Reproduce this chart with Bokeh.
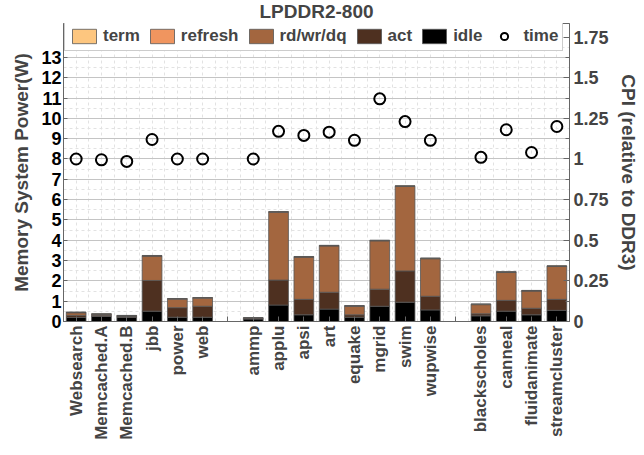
from bokeh.plotting import figure
from bokeh.models import (Range1d, LinearAxis, FixedTicker, Legend, LegendItem,
                          ColumnDataSource)
from bokeh.embed import file_html
from bokeh.resources import INLINE

# ---------------- data ----------------
categories = ["Websearch", "Memcached.A", "Memcached.B", "jbb", "power", "web",
              "ammp", "applu", "apsi", "art", "equake", "mgrid", "swim", "wupwise",
              "blackscholes", "canneal", "fluidanimate", "streamcluster"]
group_sizes = [6, 8, 4]

idle    = [0.20, 0.25, 0.20, 0.51, 0.21, 0.21, 0.12, 0.81, 0.33, 0.61, 0.21, 0.75, 0.95, 0.57, 0.28, 0.51, 0.33, 0.55]
act     = [0.10, 0.05, 0.05, 1.51, 0.47, 0.54, 0.03, 1.23, 0.76, 0.83, 0.12, 0.84, 1.54, 0.67, 0.10, 0.53, 0.32, 0.54]
rdwr    = [0.13, 0.05, 0.02, 1.20, 0.42, 0.40, 0.01, 3.34, 2.08, 2.28, 0.42, 2.38, 4.16, 1.85, 0.45, 1.38, 0.85, 1.62]
refresh = [0.02] * 18
term    = [0.01] * 18
cpi     = [1.00, 0.995, 0.985, 1.12, 1.00, 1.00, 1.00, 1.17, 1.145, 1.165, 1.115, 1.37, 1.23, 1.115,
           1.01, 1.18, 1.04, 1.20]

left_ticks = [0, 1, 2, 3, 4, 5, 6, 7, 8, 9, 10, 11, 12, 13]
right_ticks = [0, 0.25, 0.5, 0.75, 1, 1.25, 1.5, 1.75]
right_tick_labels = ["0", "0.25", "0.5", "0.75", "1", "1.25", "1.5", "1.75"]

# ---------------- positions from groups (gap slot between groups) ----------------
xs = []
slot_labels = {}
pos = 1
ci = 0
for gi, n in enumerate(group_sizes):
    for _ in range(n):
        xs.append(pos)
        slot_labels[pos] = categories[ci]
        ci += 1
        pos += 1
    if gi < len(group_sizes) - 1:
        slot_labels[pos] = ""
        pos += 1
n_slots = pos - 1

src = ColumnDataSource(dict(x=xs, idle=idle, act=act, rdwr=rdwr, refresh=refresh,
                            term=term, cpi=cpi))

FONT = "Liberation Sans"
colors = {"idle": "#000000", "act": "#4E3020", "rdwr": "#A3663F",
          "refresh": "#F0955F", "term": "#FDC67F"}

# frame 23..321 px; the top band (above 14 W / 1.75) sits under the legend
Y_TOP = 14.67
p = figure(width=644, height=455, output_backend="svg", toolbar_location=None,
           x_range=Range1d(0.5, n_slots + 0.5), y_range=Range1d(0, Y_TOP),
           min_border_left=63, min_border_right=75, min_border_top=23,
           min_border_bottom=134)
p.extra_y_ranges = {"cpi": Range1d(0, Y_TOP / 8)}

p.title.text = "LPDDR2-800"
p.title.align = "center"
p.title.text_font = FONT
p.title.text_font_size = "19px"
p.title.text_font_style = "bold"
p.title.standoff = 0
p.title.vertical_align = "top"

p.outline_line_color = "#666666"
p.background_fill_color = "white"

# grids
minor_y = [v + 0.5 for v in left_ticks]
p.yaxis.ticker = FixedTicker(ticks=left_ticks, minor_ticks=minor_y)
p.ygrid.grid_line_color = "#c4c4c4"
p.ygrid.grid_line_width = 1
p.ygrid.minor_grid_line_color = "#e2e2e2"
p.ygrid.minor_grid_line_dash = "3 3"
p.xgrid.ticker = FixedTicker(ticks=[i * 0.5 + 0.5 for i in range(2 * n_slots + 1)])
p.xgrid.grid_line_color = "#e2e2e2"
p.xgrid.grid_line_dash = "3 3"

# bars
stack_keys = ["idle", "act", "rdwr", "refresh", "term"]
renderers = p.vbar_stack(stack_keys, x="x", width=0.78, source=src,
                         color=[colors[k] for k in stack_keys],
                         line_color="#555555", line_width=0.8)
r_idle, r_act, r_rdwr, r_ref, r_term = renderers
for r in renderers:
    r.glyph.line_color = "#555555"

# CPI circles
r_time = p.scatter("x", "cpi", source=src, y_range_name="cpi", marker="circle", size=11,
                   fill_color=None, line_color="black", line_width=2)

# left axis
ya = p.yaxis[0]
ya.axis_label = "Memory System Power(W)"
ya.axis_label_text_font = FONT
ya.axis_label_text_font_style = "bold"
ya.axis_label_text_font_size = "19px"
ya.axis_label_standoff = 6
ya.major_label_text_font = FONT
ya.major_label_text_font_style = "bold"
ya.major_label_text_font_size = "18px"
ya.major_label_text_color = "black"
ya.major_label_standoff = 2
ya.major_tick_in = 4
ya.major_tick_out = 0
ya.minor_tick_in = 0
ya.minor_tick_out = 0
ya.axis_line_color = "#666666"
ya.major_tick_line_color = "#666666"

# right axis
ra = LinearAxis(y_range_name="cpi",
                ticker=FixedTicker(ticks=right_ticks,
                                   minor_ticks=[v + 0.125 for v in right_ticks[:-1]]))
ra.major_label_overrides = {float(v): s for v, s in zip(right_ticks, right_tick_labels)}
ra.axis_label = "CPI (relative to DDR3)"
ra.axis_label_text_font = FONT
ra.axis_label_text_font_style = "bold"
ra.axis_label_text_font_size = "19px"
ra.axis_label_standoff = 6
ra.major_label_text_font = FONT
ra.major_label_text_font_style = "bold"
ra.major_label_text_font_size = "18px"
ra.major_label_standoff = 4
ra.major_tick_in = 6
ra.major_tick_out = 0
ra.minor_tick_in = 4
ra.minor_tick_out = 0
ra.axis_line_color = "#666666"
ra.major_tick_line_color = "#666666"
ra.minor_tick_line_color = "#666666"
p.add_layout(ra, "right")

# x axis
xa = p.xaxis[0]
xa.ticker = FixedTicker(ticks=list(range(1, n_slots + 1)))
xa.major_label_overrides = {float(k): v for k, v in slot_labels.items()}
xa.major_label_orientation = 3.14159265 / 2
xa.major_label_text_font = FONT
xa.major_label_text_font_style = "bold"
xa.major_label_text_font_size = "17px"
xa.major_label_standoff = 4
xa.major_tick_in = 5
xa.major_tick_out = 0
xa.minor_tick_in = 0
xa.minor_tick_out = 0
xa.axis_line_color = "#666666"
xa.major_tick_line_color = "#666666"

legend = Legend(items=[LegendItem(label="term", renderers=[r_term]),
                       LegendItem(label="refresh", renderers=[r_ref]),
                       LegendItem(label="rd/wr/dq", renderers=[r_rdwr]),
                       LegendItem(label="act", renderers=[r_act]),
                       LegendItem(label="idle", renderers=[r_idle]),
                       LegendItem(label="time", renderers=[r_time])],
                orientation="horizontal", location=(1, 270),
                label_text_font=FONT, label_text_font_style="bold",
                label_text_font_size="17px", glyph_width=30, glyph_height=18,
                label_standoff=4, spacing=7, padding=4, margin=0,
                border_line_color="#999999", background_fill_alpha=1.0)
p.add_layout(legend)

open("out.html", "w").write(file_html(p, INLINE))
